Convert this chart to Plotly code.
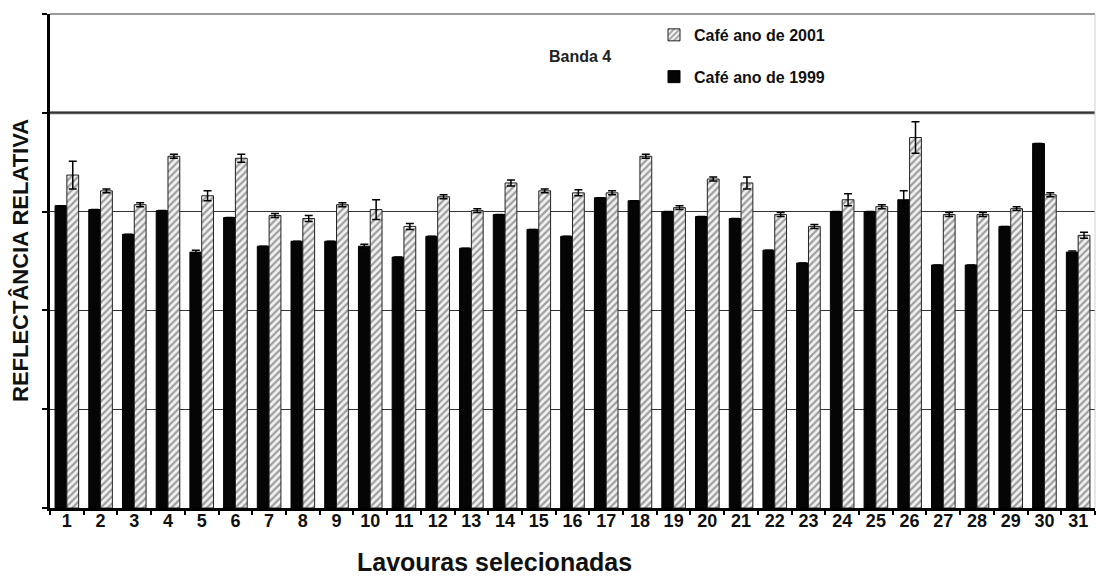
import plotly.graph_objects as go

# Selected coffee fields (lavouras) 1..31
lavouras = [str(i) for i in range(1, 32)]

# Relative reflectance, band 4 (units of one gridline step)
cafe_1999 = [3.06, 3.02, 2.77, 3.01, 2.59, 2.94, 2.65, 2.70, 2.70, 2.65,
             2.54, 2.75, 2.63, 2.97, 2.82, 2.75, 3.14, 3.11, 3.00, 2.95,
             2.93, 2.61, 2.48, 3.00, 3.00, 3.12, 2.46, 2.46, 2.85, 3.69,
             2.59]
cafe_2001 = [3.37, 3.21, 3.07, 3.56, 3.16, 3.54, 2.96, 2.93, 3.07, 3.02,
             2.85, 3.15, 3.01, 3.29, 3.21, 3.19, 3.19, 3.56, 3.04, 3.33,
             3.29, 2.97, 2.85, 3.12, 3.05, 3.75, 2.97, 2.97, 3.03, 3.17,
             2.76]

# Standard deviations
err_1999 = [0, 0, 0, 0, 0.02, 0, 0, 0, 0, 0.02,
            0, 0, 0, 0, 0, 0, 0, 0, 0, 0,
            0, 0, 0, 0, 0, 0.09, 0, 0, 0, 0,
            0.01]
err_2001 = [0.14, 0.02, 0.02, 0.02, 0.05, 0.04, 0.02, 0.03, 0.02, 0.10,
            0.03, 0.02, 0.02, 0.03, 0.02, 0.03, 0.02, 0.02, 0.02, 0.02,
            0.06, 0.02, 0.02, 0.06, 0.02, 0.16, 0.02, 0.02, 0.02, 0.02,
            0.03]

FONT = "Liberation Sans"

fig = go.Figure()
fig.add_trace(go.Bar(
    x=lavouras, y=cafe_1999, name="<b>Café ano de 1999</b>",
    legendgroup="a", legendrank=2,
    marker=dict(color="#050505", line=dict(color="#000", width=1)),
    error_y=dict(type="data", array=err_1999, color="#000",
                 thickness=1.5, width=4),
))
fig.add_trace(go.Bar(
    x=lavouras, y=cafe_2001, name="<b>Café ano de 2001</b>",
    legendgroup="b", legendrank=1,
    marker=dict(color="white",
                line=dict(color="#222", width=1),
                pattern=dict(shape="/", fgcolor="#4a4a4a", bgcolor="#f2f2f2",
                             size=5, solidity=0.45)),
    error_y=dict(type="data", array=err_2001, color="#000",
                 thickness=1.5, width=4),
))

fig.update_layout(
    width=1097, height=579,
    margin=dict(l=50, r=2, t=14, b=71),
    paper_bgcolor="white", plot_bgcolor="white",
    barmode="group", bargap=0.3, bargroupgap=0,
    font=dict(family=FONT, color="#111"),
    showlegend=True,
    legend=dict(x=0.578, y=0.992, xanchor="left", yanchor="top",
                traceorder="grouped", tracegroupgap=18,
                font=dict(family=FONT, size=16, color="#111"),
                bgcolor="rgba(0,0,0,0)"),
    xaxis=dict(type="category", tickson="boundaries",
               ticks="outside", ticklen=4, tickwidth=2, tickcolor="#000",
               showline=True, linecolor="#000", linewidth=2.5,
               showgrid=False, ticklabelstandoff=-5,
               tickfont=dict(family=FONT, size=18, color="#111"),
               tickprefix="<b>", ticksuffix="</b>"),
    yaxis=dict(range=[0, 5], dtick=1, showticklabels=False,
               ticks="outside", ticklen=5, tickwidth=2, tickcolor="#000",
               showline=True, linecolor="#000", linewidth=2.5,
               showgrid=True, gridcolor="#333", gridwidth=1.4,
               zeroline=False),
)

# upper frame and heavier reference line
fig.add_shape(type="line", xref="paper", yref="paper", x0=0, x1=1, y0=1, y1=1,
              line=dict(color="#9a9a9a", width=2))
fig.add_shape(type="line", xref="paper", yref="paper", x0=1, x1=1, y0=0, y1=1,
              line=dict(color="#cfcfcf", width=1))
fig.add_shape(type="line", xref="paper", yref="y", x0=0, x1=1, y0=4, y1=4,
              line=dict(color="#5a5a5a", width=3), layer="below")

fig.add_annotation(text="<b>Banda 4</b>", xref="paper", yref="paper",
                   x=0.507, y=0.913, yanchor="middle", xanchor="center",
                   showarrow=False,
                   font=dict(family=FONT, size=16, color="#222"))
fig.add_annotation(text="<b>REFLECTÂNCIA RELATIVA</b>", xref="paper", yref="paper",
                   x=0, y=0.5, xshift=-30, xanchor="center", yanchor="middle",
                   textangle=-90, showarrow=False,
                   font=dict(family=FONT, size=22, color="#111"))
fig.add_annotation(text="<b>Lavouras selecionadas</b>", xref="paper", yref="paper",
                   x=0.425, y=0, yshift=-54, xanchor="center", yanchor="middle",
                   showarrow=False,
                   font=dict(family=FONT, size=25, color="#111"))

fig.write_html("out.html")
